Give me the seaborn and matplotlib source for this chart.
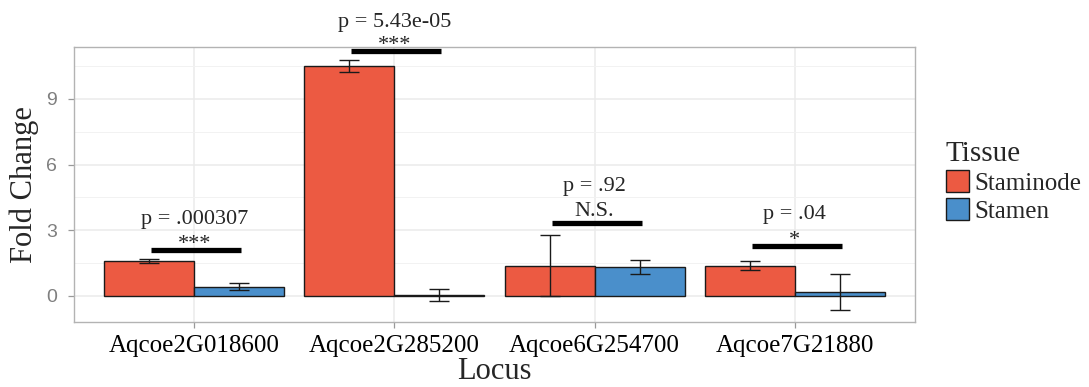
import matplotlib
matplotlib.use("Agg")
import matplotlib.pyplot as plt
import seaborn as sns
import pandas as pd
import numpy as np

# ---- data ----
loci = ["Aqcoe2G018600", "Aqcoe2G285200", "Aqcoe6G254700", "Aqcoe7G21880"]
tissues = ["Staminode", "Stamen"]
staminode_fc = [1.61, 10.52, 1.38, 1.39]
staminode_err = [0.09, 0.27, 1.40, 0.20]
stamen_fc = [0.43, 0.05, 1.32, 0.18]
stamen_err = [0.15, 0.29, 0.32, 0.80]
sig_heights = [2.08, 11.18, 3.32, 2.30]
sig_labels = ["***", "***", "N.S.", "*"]
p_labels = ["p = .000307", "p = 5.43e-05", "p = .92", "p = .04"]

colors = {"Staminode": "#EC5A42", "Stamen": "#4A8FCB"}

df = pd.DataFrame({
    "Locus": loci * 2,
    "Tissue": ["Staminode"] * 4 + ["Stamen"] * 4,
    "Fold": staminode_fc + stamen_fc,
})
errs = {"Staminode": staminode_err, "Stamen": stamen_err}

sns.set_theme(style="whitegrid")
plt.rcParams["font.family"] = ["Liberation Serif", "DejaVu Serif"]

fig = plt.figure(figsize=(10.89, 3.87), dpi=100)
ax = fig.add_axes([74 / 1089, 1 - 322 / 387, (915 - 74) / 1089, (322 - 47) / 387])

sns.barplot(data=df, x="Locus", y="Fold", hue="Tissue", hue_order=tissues,
            order=loci, palette=colors, errorbar=None, width=0.9,
            edgecolor="#1a1a1a", linewidth=1.0, saturation=1, ax=ax)

# error bars from the bar geometry
for cont, t in zip(ax.containers, tissues):
    xs = [p.get_x() + p.get_width() / 2 for p in cont.patches]
    ys = [p.get_height() for p in cont.patches]
    ax.errorbar(xs, ys, yerr=errs[t], fmt="none", ecolor="#1a1a1a",
                elinewidth=1.0, capsize=7, capthick=1.0, zorder=5)

# significance annotations
for i, (h, s, p) in enumerate(zip(sig_heights, sig_labels, p_labels)):
    ax.plot([i - 0.215, i + 0.235], [h, h], color="black", lw=3.8,
            solid_capstyle="butt", zorder=6)
    off = 5 if s == "N.S." else 0.7
    poff = 17 if i == 1 else 18.5
    ax.annotate(s, (i, h), xytext=(0, off), textcoords="offset points",
                ha="center", va="baseline", fontsize=16, annotation_clip=False)
    ax.annotate(p, (i, h), xytext=(0, off + poff), textcoords="offset points",
                ha="center", va="baseline", fontsize=16, annotation_clip=False)

ax.set_xlim(-0.6, 3.6)
ax.set_ylim(-1.19, 11.37)
ax.set_yticks([0, 3, 6, 9])
ax.set_yticks([1.5, 4.5, 7.5, 10.5], minor=True)
ax.grid(True, which="major", axis="both", color="#EBEBEB", lw=1.1)
ax.grid(True, which="minor", axis="y", color="#F2F2F2", lw=0.7)
ax.set_axisbelow(True)
ax.set_facecolor("white")
for sp in ax.spines.values():
    sp.set_color("#B3B3B3")
    sp.set_linewidth(1.0)

ax.tick_params(axis="both", which="major", length=4.5, color="#999999", width=0.9,
               bottom=True, left=True)
ax.tick_params(axis="y", which="minor", length=0, left=False)
ax.tick_params(axis="x", labelsize=18, labelcolor="black", pad=5)
ax.tick_params(axis="y", labelsize=14, labelcolor="#7F7F7F", pad=8)
for lab in ax.get_yticklabels():
    lab.set_family(["Liberation Sans", "DejaVu Sans"])

ax.set_xlabel("Locus", fontsize=22, labelpad=0)
ax.set_ylabel("Fold Change", fontsize=22, labelpad=5)

handles, labels = ax.get_legend_handles_labels()
ax.legend(handles, labels, title="Tissue", loc="upper left",
          bbox_to_anchor=(946 / 1089, 1 - 141 / 387), bbox_transform=fig.transFigure,
          frameon=False, fontsize=18, title_fontsize=21, borderaxespad=0,
          borderpad=0, handlelength=0.9, handleheight=1.0, handletextpad=0.25,
          labelspacing=0.12, alignment="left")

fig.savefig("out.png", dpi=100)
